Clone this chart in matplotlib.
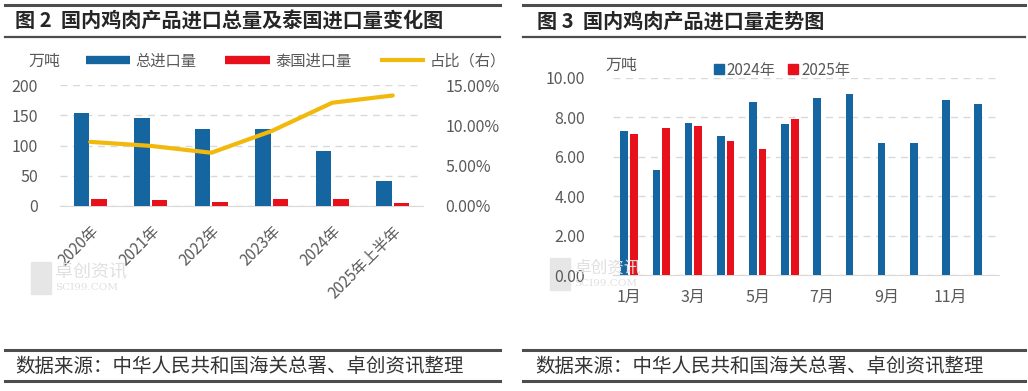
import matplotlib
matplotlib.use("Agg")
import matplotlib.pyplot as plt
from matplotlib.lines import Line2D
from matplotlib.patches import Patch, Rectangle
from matplotlib.ticker import FuncFormatter
import numpy as np

plt.rcParams['font.family'] = ['Noto Sans CJK SC', 'DejaVu Sans']

# ---- data: chart 2 ----
years = ["2020年", "2021年", "2022年", "2023年", "2024年", "2025年上半年"]
total_import = [153, 145, 128, 128, 91, 41]
thai_import = [12, 9.5, 7, 12, 12, 5]
thai_share = [7.95, 7.45, 6.6, 9.3, 12.8, 13.7]  # percent

# ---- data: chart 3 ----
months = ["1月", "2月", "3月", "4月", "5月", "6月", "7月", "8月", "9月", "10月", "11月", "12月"]
imp_2024 = [7.33, 5.34, 7.72, 7.04, 8.77, 7.68, 8.99, 9.21, 6.70, 6.70, 8.90, 8.69]
imp_2025 = [7.18, 7.46, 7.55, 6.78, 6.40, 7.94]

BLUE = "#1565a0"
RED = "#e8101a"
YEL = "#f2b90d"
TICK = "#595959"
GRID = "#d9d9d9"

W, H = 1028, 391
fig = plt.figure(figsize=(W / 100, H / 100), dpi=100)


def fx(x):
    return x / W


def fy(y):
    return 1 - y / H


def hline(x0, x1, y, lw=2.0, color="#4d4d4d"):
    fig.add_artist(Line2D([fx(x0), fx(x1)], [fy(y), fy(y)], lw=lw, color=color,
                          transform=fig.transFigure))


# frame lines, titles, sources
for (x0, x1) in [(5, 500), (523, 1025)]:
    hline(x0, x1, 5, lw=2.2)
    hline(x0, x1, 37, lw=1.6)
    hline(x0, x1, 350, lw=2.2)
    hline(x0, x1, 381, lw=2.2)

fig.text(fx(15), fy(21), "图 2  国内鸡肉产品进口总量及泰国进口量变化图", fontsize=14.5,
         fontweight="bold", color="#262626", va="center", ha="left")
fig.text(fx(537), fy(21), "图 3  国内鸡肉产品进口量走势图", fontsize=14.5,
         fontweight="bold", color="#262626", va="center", ha="left")
src = "数据来源：中华人民共和国海关总署、卓创资讯整理"
fig.text(fx(15), fy(367), src, fontsize=14, color="#333333", va="center", ha="left")
fig.text(fx(535), fy(367), src, fontsize=14, color="#333333", va="center", ha="left")


def watermark(x, y, size=13):
    fig.add_artist(Rectangle((fx(x), fy(y + 32)), fx(20), 32 / H, color="#e6e6e6",
                             transform=fig.transFigure, zorder=0))
    fig.text(fx(x + 24), fy(y + 10), "卓创资讯", fontsize=size, color="#e0e0e0",
             va="center", ha="left", zorder=0)
    fig.text(fx(x + 24), fy(y + 26), "SCI99.COM", fontsize=7.5, color="#e0e0e0",
             family="DejaVu Serif", va="center", ha="left", zorder=0)


watermark(31, 262)
watermark(550, 258, size=12)

# ---------------- chart 2 ----------------
ax = fig.add_axes([fx(60), fy(206), fx(423) - fx(60), fy(85) - fy(206)])
x = np.arange(len(years))
bw = 0.25
ax.bar(x - 0.145, total_import, bw, color=BLUE, zorder=3)
ax.bar(x + 0.145, thai_import, bw, color=RED, zorder=3)
ax.set_xlim(-0.5, len(years) - 0.5)
ax.set_ylim(0, 200)
ax.set_yticks([0, 50, 100, 150, 200])
ax.yaxis.grid(True, ls=(0, (5, 4)), color=GRID, lw=1)
ax.set_axisbelow(True)
for s in ["top", "right", "left"]:
    ax.spines[s].set_visible(False)
ax.spines["bottom"].set_color(GRID)
ax.tick_params(axis="both", length=0, labelsize=11.5, colors=TICK)
ax.set_xticks(x)
ax.set_xticklabels(years, rotation=45, ha="right", rotation_mode="anchor", fontsize=11)
for lab in ax.get_xticklabels():
    lab.set_color(TICK)
ax.tick_params(axis="x", pad=12)
ax.tick_params(axis="y", pad=16)

ax2 = ax.twinx()
ax2.plot(x, thai_share, color=YEL, lw=3, zorder=4, solid_capstyle="round")
ax2.set_ylim(0, 15)
ax2.set_yticks([0, 5, 10, 15])
ax2.yaxis.set_major_formatter(FuncFormatter(lambda v, p: f"{v:.2f}%"))
ax2.tick_params(axis="y", length=0, labelsize=11.5, colors=TICK, pad=16)
for s in ["top", "right", "left", "bottom"]:
    ax2.spines[s].set_visible(False)

fig.text(fx(28), fy(61), "万吨", fontsize=11.5, color=TICK, va="center", ha="left")
handles = [Line2D([], [], color=BLUE, lw=6, solid_capstyle="butt"),
           Line2D([], [], color=RED, lw=6, solid_capstyle="butt"),
           Line2D([], [], color=YEL, lw=3, solid_capstyle="butt")]
leg = fig.legend(handles, ["总进口量", "泰国进口量", "占比（右）"], loc="center left",
                 bbox_to_anchor=(fx(72), fy(61)), ncol=3, frameon=False, fontsize=11,
                 handlelength=2.9, handletextpad=0.35, columnspacing=1.9,
                 labelcolor=TICK)

# ---------------- chart 3 ----------------
bx = fig.add_axes([fx(613), fy(275), fx(999) - fx(613), fy(78) - fy(275)])
m = np.arange(len(months))
bw2 = 0.24
bx.bar(m - 0.15, imp_2024, bw2, color=BLUE, zorder=3, label="2024年")
bx.bar(np.arange(len(imp_2025)) + 0.15, imp_2025, bw2, color=RED, zorder=3, label="2025年")
bx.set_xlim(-0.5, len(months) - 0.5)
bx.set_ylim(0, 10)
bx.set_yticks([0, 2, 4, 6, 8, 10])
bx.yaxis.set_major_formatter(FuncFormatter(lambda v, p: f"{v:.2f}"))
bx.yaxis.grid(True, ls=(0, (5, 4)), color=GRID, lw=1)
bx.set_axisbelow(True)
for s in ["top", "right", "left"]:
    bx.spines[s].set_visible(False)
bx.spines["bottom"].set_color(GRID)
bx.set_xticks(m[::2])
bx.set_xticklabels(months[::2])
bx.tick_params(axis="both", length=0, labelsize=11.5, colors=TICK)
bx.tick_params(axis="x", pad=10)
bx.tick_params(axis="y", pad=20)

fig.text(fx(605), fy(65), "万吨", fontsize=11.5, color=TICK, va="center", ha="left")
h2 = [Patch(color=BLUE), Patch(color=RED)]
fig.legend(h2, ["2024年", "2025年"], loc="center left", bbox_to_anchor=(fx(700), fy(70)),
           ncol=2, frameon=False, fontsize=11, handlelength=0.65, handleheight=0.65,
           handletextpad=0.2, columnspacing=0.8, labelcolor=TICK)

fig.savefig("out.png", dpi=100)
